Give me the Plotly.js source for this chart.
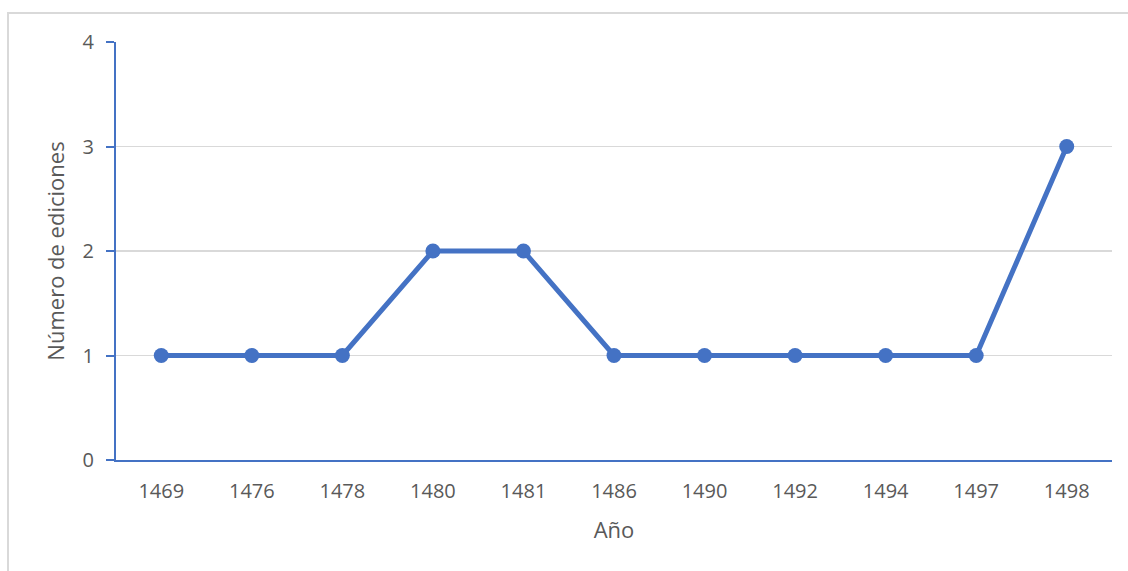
<!DOCTYPE html>
<html><head><meta charset="utf-8">
<script src="https://cdn.plot.ly/plotly-3.0.1.min.js"></script>
<style>
html,body{margin:0;padding:0;background:#fff;overflow:hidden;}
#wrap{position:relative;width:1128px;height:571px;}
#border{position:absolute;left:7px;top:12px;width:1140px;height:600px;border:2px solid #d9d9d9;box-sizing:border-box;}
#chart{position:absolute;left:0;top:0;width:1128px;height:571px;}
</style></head>
<body><div id="wrap"><div id="border"></div><div id="chart"></div></div>
<script>
const years = ["1469","1476","1478","1480","1481","1486","1490","1492","1494","1497","1498"];
const ediciones = [1,1,1,2,2,1,1,1,1,1,3];
const yTicks = [0,1,2,3,4];

Plotly.newPlot('chart', [{
  x: years, y: ediciones, type: 'scatter', mode: 'lines+markers',
  line: {color: '#4472C4', width: 5},
  marker: {color: '#4472C4', size: 15},
  cliponaxis: false, hoverinfo: 'none'
}], {
  width: 1128, height: 571,
  margin: {l: 116, r: 16, t: 42, b: 111},
  paper_bgcolor: 'rgba(0,0,0,0)', plot_bgcolor: 'rgba(0,0,0,0)',
  showlegend: false,
  font: {family: 'Open Sans, sans-serif', color: '#595959', size: 21},
  xaxis: {
    type: 'category', range: [-0.5, 10.5],
    showline: true, linecolor: '#4472C4', linewidth: 2,
    showgrid: false, ticks: '', zeroline: false,
    tickfont: {size: 20, color: '#595959'}, ticklabelstandoff: 12,
    title: {text: 'Año', font: {size: 22, color: '#595959'}, standoff: 20}
  },
  yaxis: {
    range: [0, 4], tickvals: yTicks, ticktext: yTicks.map(String),
    showline: true, linecolor: '#4472C4', linewidth: 2,
    ticks: 'outside', ticklen: 8, tickcolor: '#4472C4', tickwidth: 2,
    showgrid: true, gridcolor: '#d9d9d9', gridwidth: 1.5, zeroline: false,
    tickfont: {size: 20, color: '#595959'}, ticklabelstandoff: 8,
    title: {text: 'Número de ediciones', font: {size: 22, color: '#595959'}, standoff: 12}
  }
}, {staticPlot: true});
</script></body></html>
